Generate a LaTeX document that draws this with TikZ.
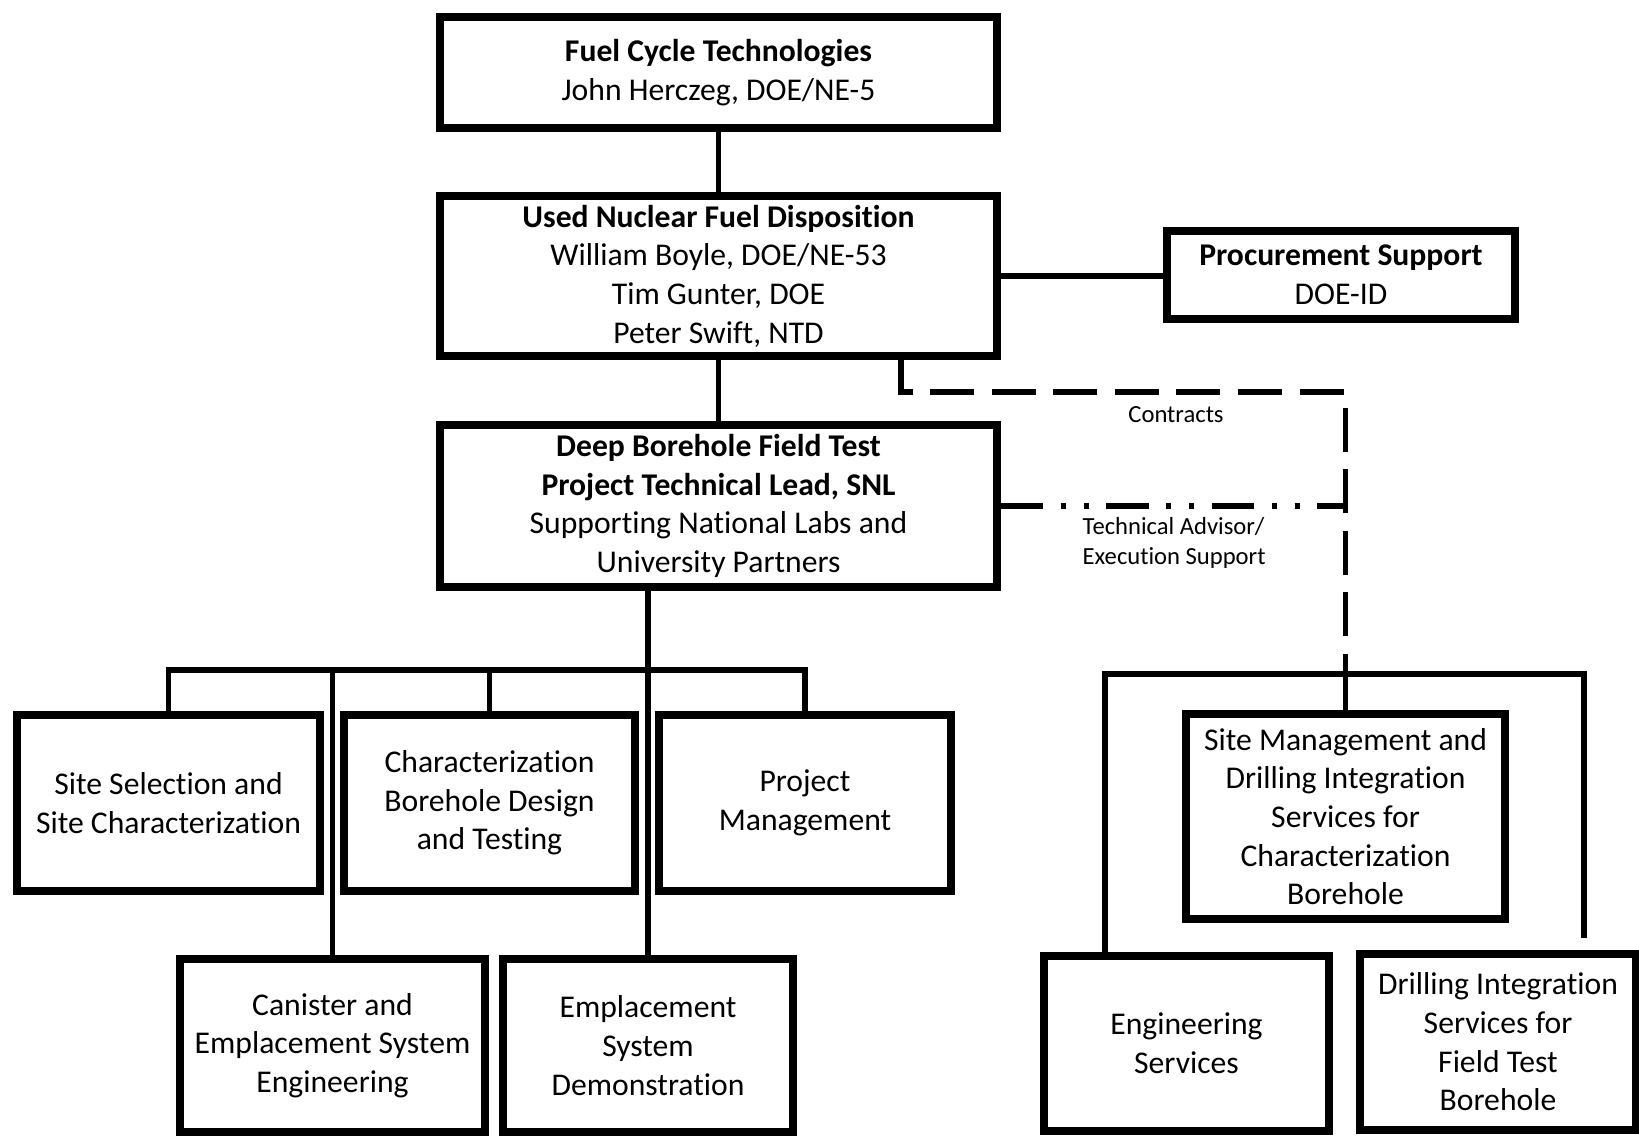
\documentclass[tikz,border=0pt]{standalone}
\usepackage{fontspec}
\setmainfont{Carlito}[Ligatures=NoCommon]
\usetikzlibrary{calc}
\begin{document}
\begin{tikzpicture}[x=0.01cm,y=-0.01cm,
  orgbox/.style={draw, line width=2.1pt, align=center, inner sep=0pt,
    font=\fontsize{9}{11}\selectfont},
  conn/.style={line width=1.6pt},
  lbl/.style={inner sep=0pt, font=\fontsize{7}{8.6}\selectfont},
  contract/.style={conn, dash pattern=on 12.5pt off 5pt},
  techline/.style={conn, dash pattern=on 12pt off 5pt on 1.5pt off 5pt on 1.5pt off 5pt}
]
\useasboundingbox (0,0) rectangle (1639,1136);

% top chain
\node[orgbox, minimum width=5.57cm, minimum height=1.11cm] (fct) at (718.5,72.5)
  {\textbf{Fuel Cycle Technologies}\\John Herczeg, DOE/NE-5};
\node[orgbox, minimum width=5.57cm, minimum height=1.60cm] (unfd) at (718.5,276)
  {\textbf{Used Nuclear Fuel Disposition}\\William Boyle, DOE/NE-53\\Tim Gunter, DOE\\Peter Swift, NTD};
\node[orgbox, minimum width=3.48cm, minimum height=0.88cm] (proc) at (1341,275)
  {\textbf{Procurement Support}\\DOE-ID};
\node[orgbox, minimum width=5.57cm, minimum height=1.62cm] (dbft) at (718.5,506)
  {\textbf{Deep Borehole Field Test}\\\textbf{Project Technical Lead, SNL}\\Supporting National Labs and\\University Partners};

% left branch, row 1
\node[orgbox, minimum width=3.03cm, minimum height=1.76cm] (ssc) at (168.5,803)
  {Site Selection and\\Site Characterization};
\node[orgbox, minimum width=2.91cm, minimum height=1.76cm] (cbd) at (489.5,803)
  {Characterization\\Borehole Design\\and Testing};
\node[orgbox, minimum width=2.92cm, minimum height=1.76cm] (pm) at (805,803)
  {Project\\Management};

% left branch, row 2
\node[orgbox, minimum width=3.05cm, minimum height=1.73cm] (can) at (332.5,1045.5)
  {Canister and\\Emplacement System\\Engineering};
\node[orgbox, minimum width=2.90cm, minimum height=1.73cm] (emp) at (648,1045.5)
  {Emplacement\\System\\Demonstration};

% right branch
\node[orgbox, minimum width=3.19cm, minimum height=2.05cm] (smd) at (1345.5,816.5)
  {Site Management and\\Drilling Integration\\Services for\\Characterization\\Borehole};
\node[orgbox, minimum width=2.85cm, minimum height=1.75cm] (eng) at (1186.5,1043.5)
  {Engineering\\Services};
\node[orgbox, minimum width=2.76cm, minimum height=1.76cm] (dift) at (1498,1042)
  {Drilling Integration\\Services for\\Field Test\\Borehole};

% labels
\node[lbl] (contracts) at (1176,415) {Contracts};
\node[lbl, anchor=west, align=left] (tech) at (1082,543)
  {Technical Advisor/\\Execution Support};

% coordinates
\coordinate (lb) at (0,670);
\coordinate (rb) at (0,674);
\coordinate (rbl) at (1105,674);
\coordinate (rbr) at (1584,674);
\coordinate (cdrop) at (901,0);
\coordinate (cturn) at (0,392);
\coordinate (rbrend) at ($(rbr |- dift.north)+(0,-12)$);

% solid connectors
\draw[conn] (fct.south) -- (unfd.north);
\draw[conn] (unfd.south) -- (dbft.north);
\draw[conn] (unfd.east) -- (unfd.east -| proc.west);
\draw[conn] (dbft.south -| emp.north) -- (emp.north);
\draw[conn] (ssc.north) -- (ssc.north |- lb) -- (pm.north |- lb) -- (pm.north);
\draw[conn] (cbd.north |- lb) -- (cbd.north);
\draw[conn] (can.north |- lb) -- (can.north);
\draw[conn] (rbl |- eng.north) -- (rbl) -- (rbr) -- (rbrend);
\draw[conn] (smd.north |- rb) -- (smd.north);

% contracts (dashed)
\draw[contract] (cdrop |- unfd.south) -- (cdrop |- cturn) -- (smd.north |- cturn) -- (smd.north |- rb);
% technical advisor (dash-dot-dot)
\draw[techline] (dbft.east) -- (dbft.east -| smd.north);
\end{tikzpicture}
\end{document}
